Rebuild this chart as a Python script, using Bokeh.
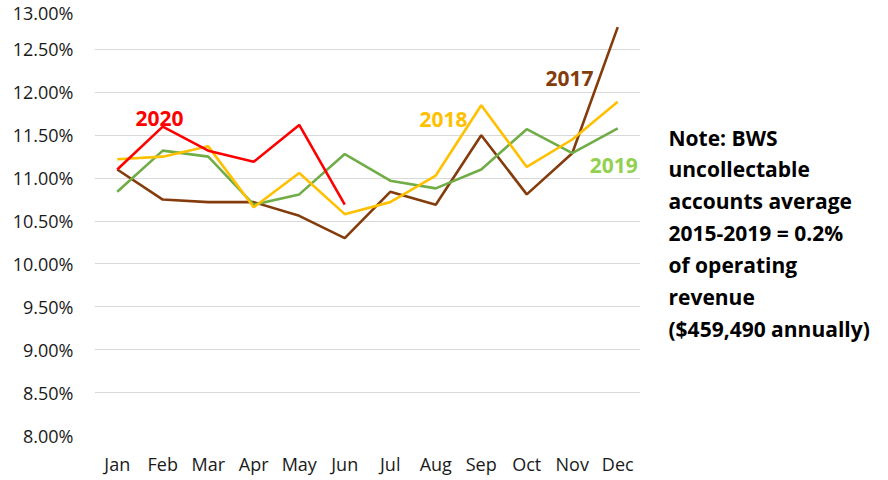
from bokeh.plotting import figure
from bokeh.layouts import row
from bokeh.models import Label, Range1d, FixedTicker, PrintfTickFormatter
from bokeh.embed import file_html
from bokeh.resources import INLINE

months = ["Jan", "Feb", "Mar", "Apr", "May", "Jun", "Jul", "Aug", "Sep", "Oct", "Nov", "Dec"]
y2017 = [11.10, 10.75, 10.72, 10.72, 10.56, 10.30, 10.84, 10.69, 11.50, 10.81, 11.29, 12.76]
y2018 = [11.22, 11.25, 11.37, 10.66, 11.06, 10.58, 10.72, 11.03, 11.85, 11.13, 11.45, 11.89]
y2019 = [10.84, 11.32, 11.25, 10.69, 10.81, 11.28, 10.97, 10.88, 11.10, 11.57, 11.29, 11.58]
y2020 = [11.10, 11.60, 11.32, 11.19, 11.62, 10.69]
y_ticks = [8.0, 8.5, 9.0, 9.5, 10.0, 10.5, 11.0, 11.5, 12.0, 12.5, 13.0]
note_lines = [
    "Note: BWS",
    "uncollectable",
    "accounts average",
    "2015-2019 = 0.2%",
    "of operating",
    "revenue",
    "($459,490 annually)",
]

FONT = "Open Sans"
H = 478

p = figure(x_range=months, y_range=Range1d(8.0, 13.0), width=640, height=H,
           output_backend="svg", toolbar_location=None,
           min_border_left=94, min_border_right=0, min_border_top=6, min_border_bottom=35)
p.outline_line_color = None
p.xgrid.grid_line_color = None
p.ygrid.grid_line_color = "#D9D9D9"
p.ygrid.grid_line_width = 1

p.yaxis.ticker = FixedTicker(ticks=y_ticks)
p.yaxis.formatter = PrintfTickFormatter(format="%.2f%%")
for ax in (p.xaxis, p.yaxis):
    ax.axis_line_color = None
    ax.major_tick_line_color = None
    ax.minor_tick_line_color = None
    ax.major_tick_out = 0
    ax.major_tick_in = 0
    ax.minor_tick_out = 0
    ax.minor_tick_in = 0
    ax.major_label_text_font = FONT
    ax.major_label_text_font_size = "18px"
    ax.major_label_text_color = "#1a1a1a"
p.yaxis.major_label_standoff = 21
p.xaxis.major_label_standoff = 16

series = [(y2017, "#843C0C"), (y2019, "#70AD47"), (y2018, "#FFC000")]
for ys, col in series:
    p.line(months[:len(ys)], ys, line_color=col, line_width=2.6)
p.line(months[:len(y2020)], y2020, line_color="#FF0000", line_width=2.6)

labels = [
    ("2020", 1.43, 11.69, "#FF0000"),
    ("2018", 7.67, 11.68, "#FFC000"),
    ("2017", 10.44, 12.166, "#843C0C"),
    ("2019", 11.41, 11.15, "#92D050"),
]
for t, x, y, c in labels:
    p.add_layout(Label(x=x, y=y, text=t, text_color=c, text_font=FONT,
                       text_font_style="bold", text_font_size="21px",
                       text_align="center", text_baseline="alphabetic"))

# note panel (frame aligned with the chart's frame; y in page pixels)
n = figure(width=232, height=H, x_range=Range1d(0, 232), y_range=Range1d(437, 14),
           output_backend="svg", toolbar_location=None,
           min_border_left=0, min_border_right=0, min_border_top=0, min_border_bottom=0)
n.axis.visible = False
n.grid.visible = False
n.outline_line_color = None
for k, t in enumerate(note_lines):
    n.add_layout(Label(x=28, y=143.3 + 31.4 * k, text=t, text_color="#000000",
                       text_font=FONT, text_font_style="bold", text_font_size="21px",
                       text_align="left", text_baseline="alphabetic"))

open("out.html", "w").write(file_html(row(p, n), INLINE))
